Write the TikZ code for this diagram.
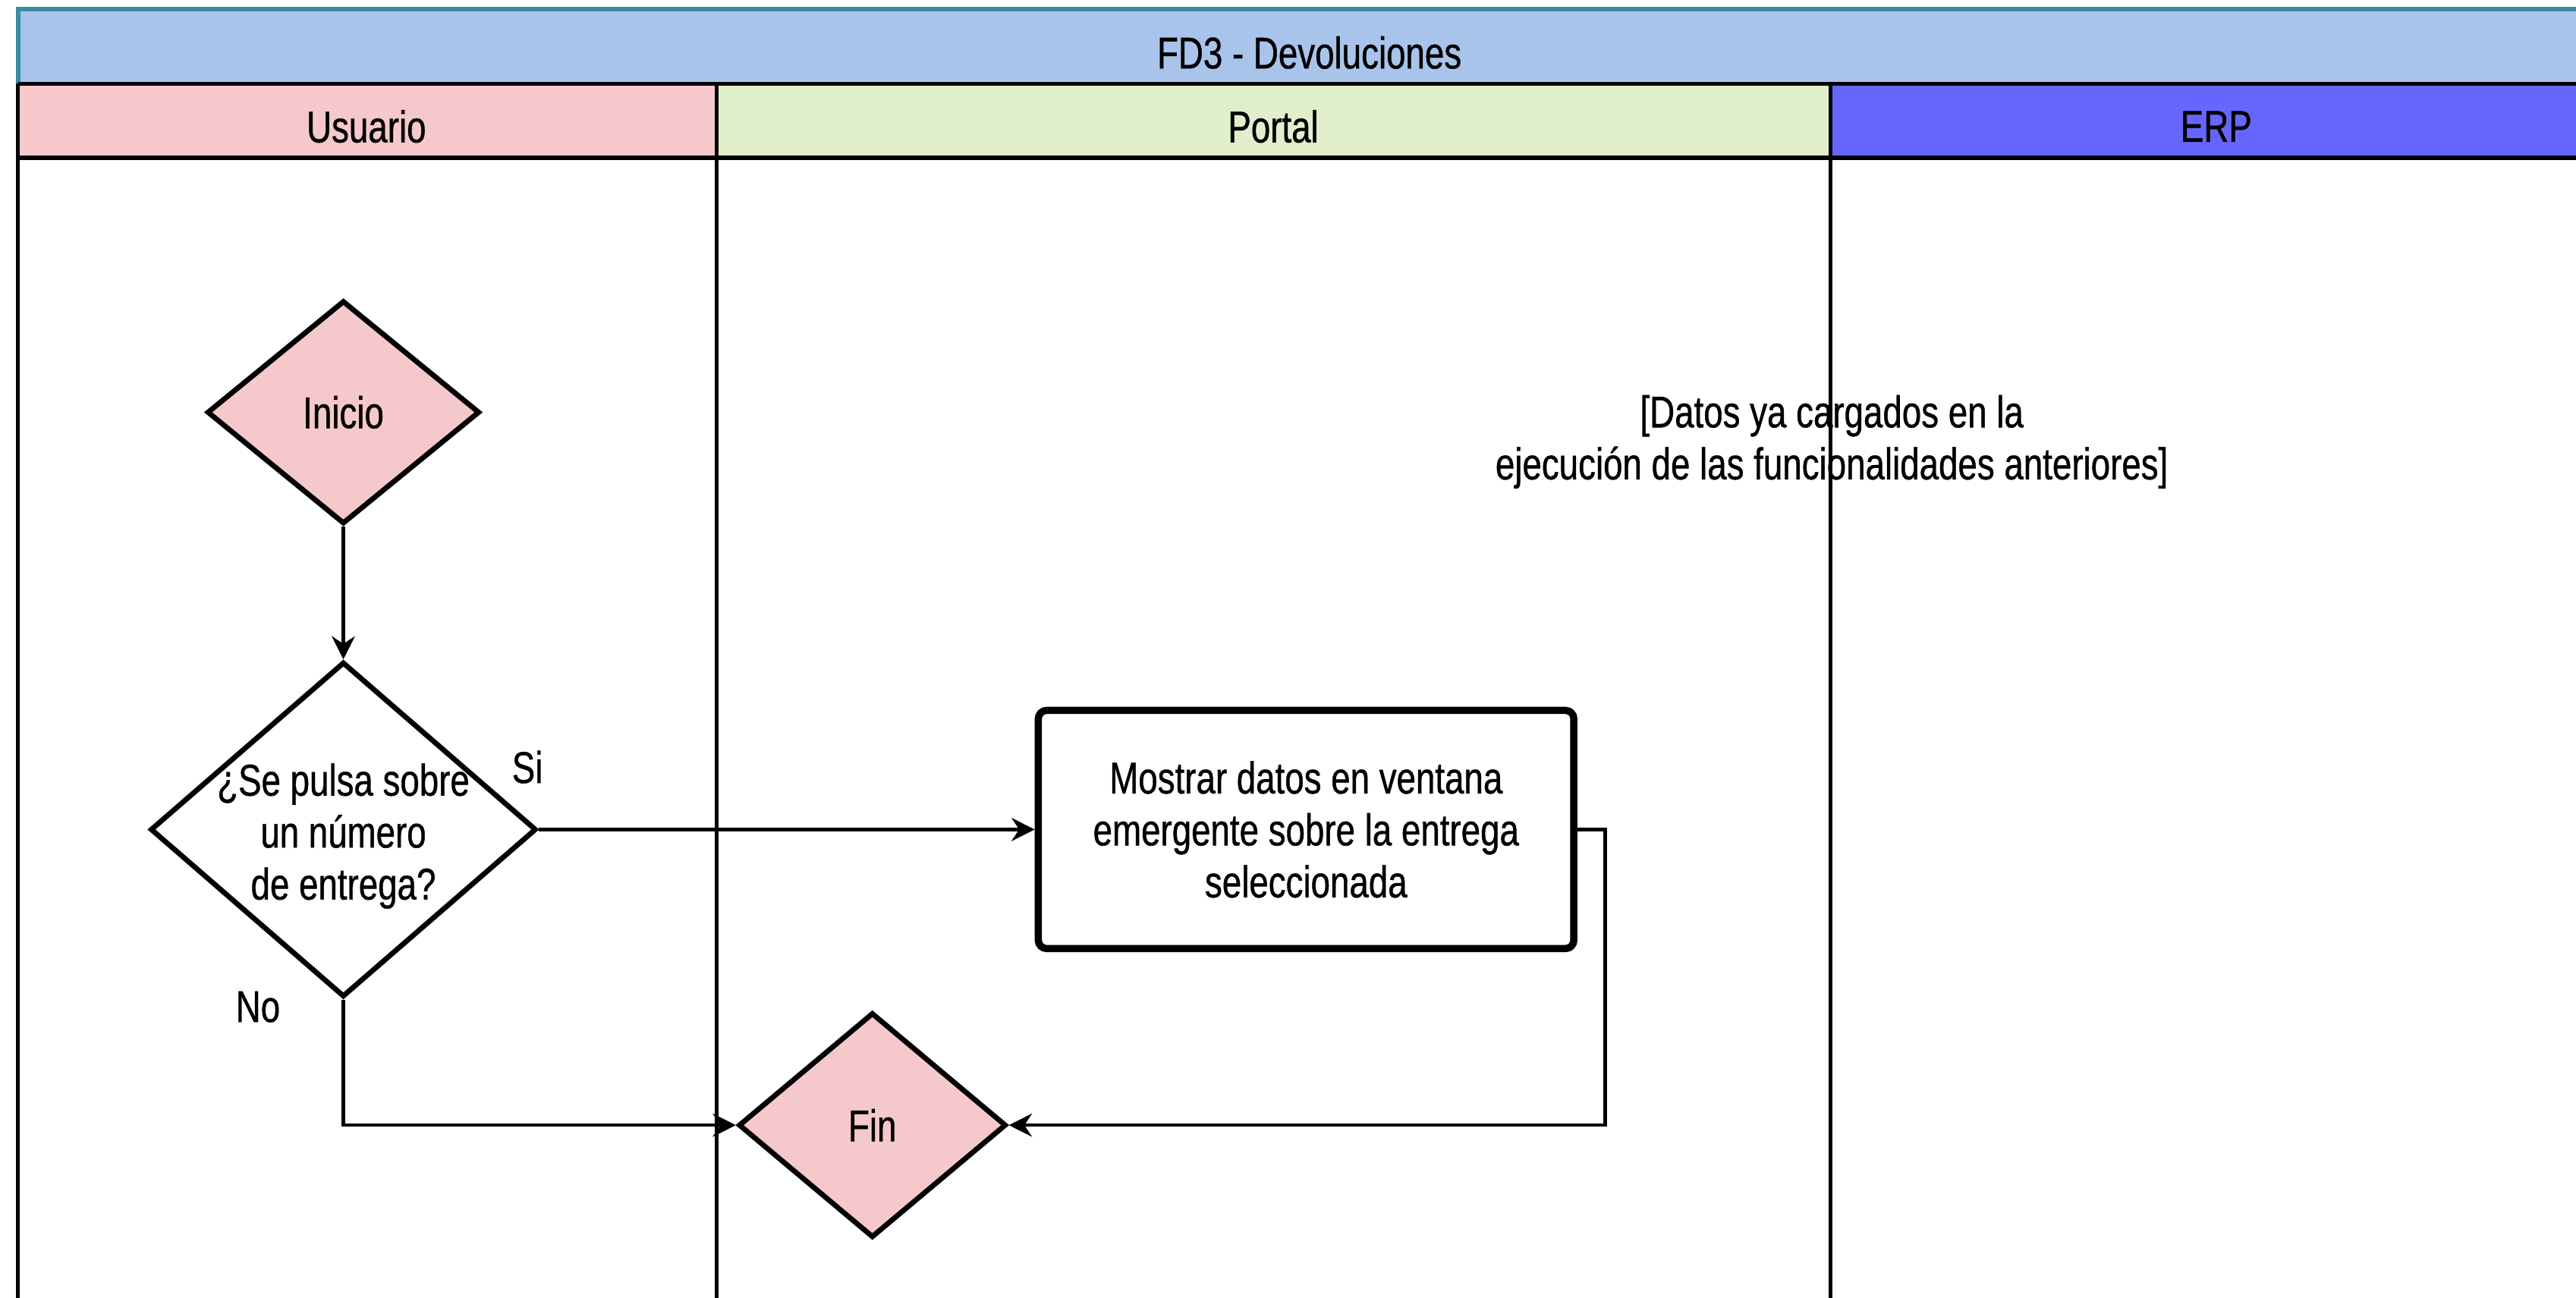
\documentclass[tikz,border=0pt]{standalone}
\usepackage{fontspec}
\setmainfont[FakeStretch=0.78,FakeBold=0.7]{Liberation Sans}
\usetikzlibrary{shapes.geometric,arrows.meta}
\definecolor{titleblue}{HTML}{A9C4EB}
\definecolor{titleline}{HTML}{3A8BA6}
\definecolor{userpink}{HTML}{F5C9CB}
\definecolor{portalgreen}{HTML}{E0EECB}
\definecolor{erpblue}{HTML}{6666FF}

\begin{document}
\begin{tikzpicture}[x=0.02cm,y=-0.02cm,
  font=\fontsize{15.4}{18}\selectfont,
  lane/.style={line width=1.3pt},
  band/.style={line width=1.5pt},
  decision/.style={diamond,draw,line width=1.8pt,inner sep=0pt},
  flow/.style={line width=1.1pt,-{Stealth[length=8pt,width=8pt]}}]
\useasboundingbox (0,0) rectangle (1568,790);
\clip (0,0) rectangle (1568,790);
\coordinate (TL) at (11,5.6);
\coordinate (TR) at (1600,5.6);
\coordinate (codo) at (977,505);

% swimlanes
\fill[titleblue] (11,5) rectangle (1600,51);
\fill[userpink] (11,51) rectangle (436,96);
\fill[portalgreen] (436,51) rectangle (1114,96);
\fill[erpblue] (1114,51) rectangle (1600,96);
\draw[line width=1.5pt,titleline] (11,51) -- (TL) -- (TR);
\draw[band] (11,51) -- (1600,51);
\draw[band] (11,96) -- (1600,96);
\draw[lane] (11,51) -- (11,790);
\draw[lane] (436,51) -- (436,790);
\draw[lane] (1114,51) -- (1114,790);

\node (title) at (797,32) {FD3 - Devoluciones};
\node (usuario) at (223,77) {Usuario};
\node (portal) at (775,77) {Portal};
\node (erp) at (1349,77) {ERP};

% flow
\node[decision,fill=userpink,minimum width=3.32cm,minimum height=2.72cm] (inicio) at (209,251) {Inicio};
\node[decision,fill=white,minimum width=4.7cm,minimum height=4.08cm] (pulsa) at (209,505) {};
\node[align=center] (pulsatxt) at (209,509) {¿Se pulsa sobre\\un número\\de entrega?};
\node[draw,rounded corners=0.1cm,line width=2.5pt,minimum width=6.52cm,minimum height=2.9cm,align=center] (mostrar) at (795,505) {Mostrar datos en ventana\\emergente sobre la entrega\\seleccionada};
\node[decision,fill=userpink,minimum width=3.26cm,minimum height=2.74cm] (fin) at (531,685) {Fin};
\node[align=center] (nota) at (1115,269) {[Datos ya cargados en la\\ejecución de las funcionalidades anteriores]};

\draw[flow] (inicio.south) -- (pulsa.north);
\draw[flow] (pulsa.east) -- (mostrar.west);
\draw[flow] (mostrar.east) -- (codo) |- (fin.east);
\draw[flow] (pulsa.south) |- (fin.west);

\node (si) at (321,467) {Si};
\node (no) at (157,613) {No};
\end{tikzpicture}
\end{document}
